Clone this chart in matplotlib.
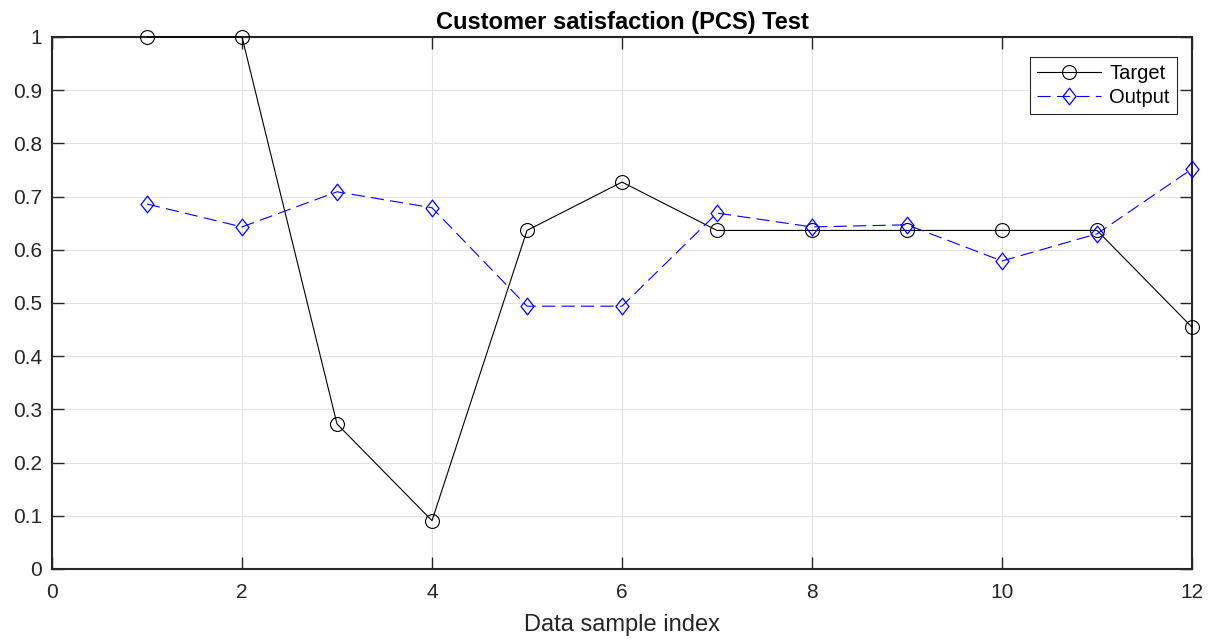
import matplotlib
matplotlib.use("Agg")
import matplotlib.pyplot as plt
from matplotlib.path import Path

x = list(range(1, 13))
target = [1.0, 1.0, 0.2727, 0.0909, 0.6364, 0.7273, 0.6364, 0.6364, 0.6364, 0.6364, 0.6364, 0.4545]
output = [0.686, 0.643, 0.709, 0.679, 0.494, 0.494, 0.669, 0.643, 0.647, 0.579, 0.630, 0.752]
xticks = [0, 2, 4, 6, 8, 10, 12]
yticks = [0, 0.1, 0.2, 0.3, 0.4, 0.5, 0.6, 0.7, 0.8, 0.9, 1]

plt.rcParams['font.family'] = ['Liberation Sans', 'DejaVu Sans']
plt.rcParams['lines.scale_dashes'] = False

diamond = Path([(0, 1), (0.78, 0), (0, -1), (-0.78, 0), (0, 1)],
               [Path.MOVETO, Path.LINETO, Path.LINETO, Path.LINETO, Path.CLOSEPOLY])

fig = plt.figure(figsize=(12.16, 6.4), dpi=100)
ax = fig.add_axes([52/1216, 71/640, 1140/1216, 532/640])

ax.plot(x, target, '-o', color='black', lw=0.8, markersize=10, markerfacecolor='none',
        markeredgewidth=0.8, label='Target', clip_on=False, zorder=3)
ax.plot(x, output, '--', marker=diamond, color='blue', lw=0.8, markersize=12,
        markerfacecolor='none', markeredgewidth=0.9, dashes=(9.5, 4.5), label='Output',
        clip_on=False, zorder=3)

ax.set_xlim(0, 12)
ax.set_ylim(0, 1)
ax.set_xticks(xticks)
ax.set_yticks(yticks)
ax.set_yticklabels(['0', '0.1', '0.2', '0.3', '0.4', '0.5', '0.6', '0.7', '0.8', '0.9', '1'])
ax.grid(True, color='#e3e3e3', lw=0.8)
ax.set_axisbelow(True)
ax.tick_params(direction='in', length=8.5, width=1, labelsize=15, colors='#262626',
               top=True, right=True)
ax.tick_params(axis='y', pad=7)
ax.tick_params(axis='x', pad=10)
for s in ax.spines.values():
    s.set_linewidth(1.5)
    s.set_color('#262626')
ax.set_title('Customer satisfaction (PCS) Test', fontsize=17, fontweight='bold', pad=6)
ax.set_xlabel('Data sample index', fontsize=17, color='#262626', labelpad=9)
leg = ax.legend(loc='upper right', bbox_to_anchor=(1177/1216, 1 - 57/640),
                bbox_transform=fig.transFigure, borderaxespad=0,
                fontsize=14.5, fancybox=False, edgecolor='#262626',
                handlelength=3.2, handletextpad=0.4, labelspacing=0.25,
                borderpad=0.35, framealpha=1)
leg.get_frame().set_linewidth(0.8)

fig.savefig('out.png', dpi=100)
